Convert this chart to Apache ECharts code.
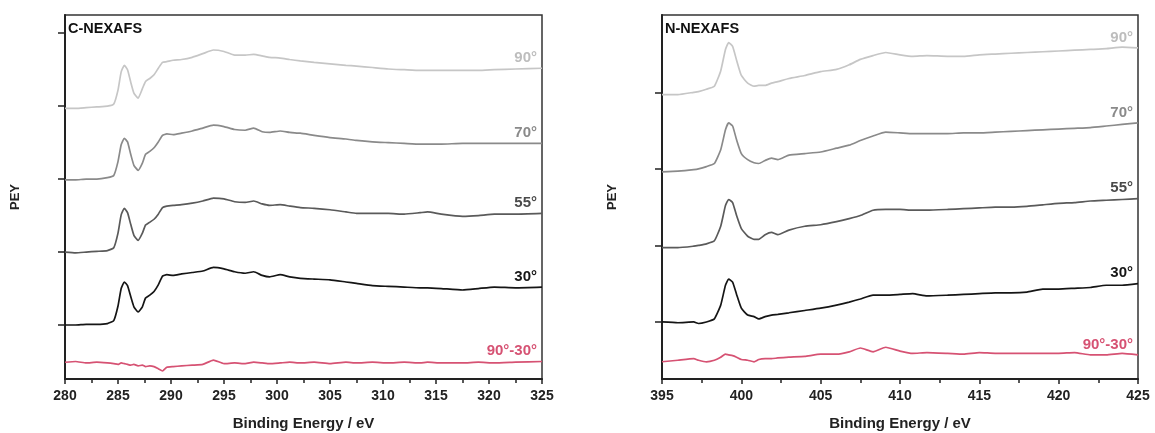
<!DOCTYPE html>
<html><head><meta charset="utf-8">
<script src="https://cdn.jsdelivr.net/npm/echarts@6/dist/echarts.min.js"></script>
<style>html,body{margin:0;padding:0;background:#fff}#c{width:1155px;height:433px}</style>
</head><body><div id="c"></div>
<script>
// ---- C-NEXAFS (left panel) ----
const cEnergy = [280,281,282,283,284,284.6,285.0,285.3,285.6,285.9,286.2,286.5,286.9,287.3,287.6,288.0,288.4,288.8,289.2,289.6,290.2,291,292,293,294,295,296,297,297.8,298.6,299.3,300.3,301.2,302.2,303.5,305,306.5,307.5,309,310.5,312,313.5,314.2,315.5,317.5,319,320.5,322.5,325];
const c90 = [-0.03,-0.03,-0.02,-0.01,0.0,0.03,0.22,0.47,0.56,0.50,0.33,0.18,0.11,0.24,0.34,0.38,0.43,0.52,0.60,0.61,0.63,0.64,0.67,0.72,0.77,0.75,0.70,0.70,0.71,0.69,0.67,0.66,0.64,0.62,0.60,0.58,0.56,0.55,0.53,0.51,0.50,0.49,0.49,0.49,0.49,0.49,0.50,0.51,0.52];
const c70 = [-0.01,-0.01,0.0,0.0,0.02,0.05,0.24,0.47,0.56,0.51,0.34,0.19,0.12,0.22,0.34,0.38,0.43,0.51,0.60,0.62,0.61,0.63,0.66,0.70,0.74,0.72,0.68,0.67,0.70,0.65,0.64,0.66,0.64,0.63,0.60,0.57,0.55,0.53,0.51,0.50,0.49,0.48,0.48,0.48,0.49,0.49,0.49,0.49,0.49];
const c55 = [0,-0.01,0.0,0.01,0.02,0.06,0.26,0.51,0.60,0.54,0.38,0.23,0.16,0.26,0.37,0.41,0.45,0.52,0.61,0.63,0.64,0.65,0.67,0.70,0.74,0.73,0.69,0.68,0.70,0.66,0.64,0.65,0.63,0.61,0.60,0.58,0.55,0.53,0.53,0.53,0.52,0.54,0.55,0.52,0.49,0.50,0.52,0.52,0.53];
const c30 = [0,0.0,0.01,0.01,0.02,0.06,0.26,0.50,0.59,0.54,0.39,0.25,0.18,0.25,0.37,0.41,0.46,0.55,0.67,0.69,0.68,0.70,0.72,0.74,0.79,0.77,0.73,0.71,0.73,0.68,0.66,0.69,0.66,0.64,0.63,0.62,0.59,0.57,0.54,0.53,0.52,0.51,0.51,0.50,0.48,0.50,0.52,0.51,0.52];
const cDiff = [-0.51,-0.50,-0.52,-0.51,-0.52,-0.53,-0.54,-0.52,-0.53,-0.54,-0.55,-0.54,-0.56,-0.55,-0.57,-0.56,-0.57,-0.60,-0.63,-0.58,-0.57,-0.56,-0.55,-0.54,-0.48,-0.53,-0.52,-0.53,-0.51,-0.52,-0.53,-0.52,-0.51,-0.52,-0.51,-0.53,-0.51,-0.52,-0.51,-0.52,-0.51,-0.52,-0.51,-0.52,-0.52,-0.51,-0.52,-0.51,-0.50];
// offsets of the stacked spectra (baseline of each trace)
const cOffsets = [3, 2, 1, 0, 0];

// ---- N-NEXAFS (right panel) ----
const nEnergy = [395,396,397,397.3,397.8,398.3,398.7,399.0,399.2,399.45,399.7,400.0,400.4,400.8,401.1,401.5,401.9,402.3,403,404,405,406,406.8,407.5,408.3,409.1,410,410.8,411.7,413,414,415,416,417,418,419,420,421,422,423,424,425];
const n90 = [-0.03,-0.03,0.0,0.01,0.04,0.08,0.28,0.56,0.65,0.60,0.42,0.22,0.12,0.08,0.09,0.09,0.12,0.14,0.18,0.22,0.27,0.30,0.36,0.43,0.48,0.52,0.49,0.47,0.48,0.47,0.47,0.49,0.50,0.51,0.52,0.53,0.54,0.55,0.56,0.57,0.59,0.58];
const n70 = [-0.04,-0.03,-0.01,0.0,0.03,0.07,0.25,0.51,0.60,0.56,0.38,0.20,0.12,0.08,0.07,0.11,0.14,0.12,0.18,0.20,0.22,0.27,0.31,0.37,0.43,0.48,0.47,0.46,0.46,0.46,0.47,0.47,0.48,0.49,0.50,0.51,0.52,0.53,0.54,0.56,0.58,0.60];
const n55 = [-0.03,-0.03,-0.01,0.0,0.02,0.06,0.25,0.52,0.60,0.56,0.39,0.22,0.12,0.08,0.08,0.14,0.17,0.14,0.20,0.25,0.27,0.31,0.35,0.39,0.46,0.47,0.47,0.46,0.46,0.47,0.48,0.49,0.50,0.50,0.51,0.53,0.55,0.56,0.58,0.59,0.60,0.61];
const n30 = [0,-0.01,0.0,-0.02,0.0,0.04,0.22,0.48,0.56,0.52,0.36,0.18,0.09,0.07,0.04,0.07,0.09,0.10,0.12,0.15,0.18,0.22,0.26,0.30,0.35,0.35,0.36,0.37,0.34,0.35,0.36,0.37,0.38,0.38,0.39,0.43,0.43,0.44,0.45,0.48,0.48,0.50];
const nDiff = [-0.52,-0.50,-0.48,-0.50,-0.52,-0.50,-0.46,-0.42,-0.43,-0.44,-0.46,-0.49,-0.50,-0.52,-0.49,-0.48,-0.48,-0.47,-0.46,-0.45,-0.42,-0.42,-0.39,-0.34,-0.39,-0.33,-0.38,-0.41,-0.40,-0.41,-0.42,-0.40,-0.41,-0.41,-0.41,-0.41,-0.41,-0.40,-0.43,-0.43,-0.41,-0.43];
const nOffsets = [3, 2, 1, 0, 0];

const seriesNames = ['90°','70°','55°','30°','90°-30°'];
const lineColors = ['#c6c6c6','#8a8a8a','#5a5a5a','#151515','#d65273'];
const labelColors = ['#bdbdbd','#8a8a8a','#4a4a4a','#151515','#d65273'];
const cTicks = [0,1,2,3,4];
const nTicks = [0,1,2,3];

const fontFam = 'Liberation Sans, Arial, sans-serif';

function mk(energy, ys, off, gi, idx) {
  return {
    type: 'line', xAxisIndex: gi, yAxisIndex: gi, name: seriesNames[idx],
    data: energy.map((e, i) => [e, ys[i] + off]),
    showSymbol: false, smooth: 0.15,
    lineStyle: { color: lineColors[idx], width: 1.7 },
    endLabel: { show: true, formatter: seriesNames[idx], align: 'right', verticalAlign: 'bottom',
      offset: [-13, -3], color: labelColors[idx], fontWeight: 'bold', fontSize: 15, fontFamily: fontFam },
    silent: true, animation: false
  };
}

const cSets = [c90, c70, c55, c30, cDiff];
const nSets = [n90, n70, n55, n30, nDiff];
const series = [];
cSets.forEach((s, i) => series.push(mk(cEnergy, s, cOffsets[i], 0, i)));
nSets.forEach((s, i) => series.push(mk(nEnergy, s, nOffsets[i], 1, i)));

function xAx(gi, mn, mx) {
  return {
    type: 'value', gridIndex: gi, min: mn, max: mx, interval: 5,
    name: 'Binding Energy / eV', nameLocation: 'middle', nameGap: 37,
    nameTextStyle: { fontWeight: 'bold', fontSize: 15, color: '#222', fontFamily: fontFam },
    axisLine: { show: true, onZero: false, lineStyle: { color: '#222', width: 2 } },
    axisTick: { show: true, length: 5, lineStyle: { color: '#222', width: 1.5 } },
    minorTick: { show: true, splitNumber: 2, length: 4, lineStyle: { color: '#222', width: 1.5 } },
    axisLabel: { fontWeight: 'bold', fontSize: 14, color: '#222', margin: 10, fontFamily: fontFam },
    splitLine: { show: false }
  };
}
function yAx(gi, mn, mx, ticks) {
  return {
    type: 'value', gridIndex: gi, min: mn, max: mx,
    name: 'PEY', nameLocation: 'middle', nameGap: 43, nameRotate: 90,
    nameTextStyle: { fontWeight: 'bold', fontSize: 13, color: '#222', fontFamily: fontFam },
    axisLine: { show: true, onZero: false, lineStyle: { color: '#222', width: 2 } },
    axisTick: { show: true, length: 7, customValues: ticks, lineStyle: { color: '#222', width: 1.5 } },
    axisLabel: { show: false },
    splitLine: { show: false }
  };
}

const chart = echarts.init(document.getElementById('c'), null, { renderer: 'canvas' });
chart.setOption({
  animation: false,
  backgroundColor: '#fff',
  title: [
    { text: 'C-NEXAFS', left: 68, top: 21, padding: 0, textStyle: { fontWeight: 'bold', fontSize: 14.5, color: '#111', fontFamily: fontFam } },
    { text: 'N-NEXAFS', left: 665, top: 21, padding: 0, textStyle: { fontWeight: 'bold', fontSize: 14.5, color: '#111', fontFamily: fontFam } }
  ],
  grid: [
    { left: 65, top: 15, width: 477, height: 364, outerBoundsMode: 'none', containLabel: false, show: true, borderColor: '#333', borderWidth: 1.5, backgroundColor: 'transparent' },
    { left: 662, top: 15, width: 476, height: 364, outerBoundsMode: 'none', containLabel: false, show: true, borderColor: '#333', borderWidth: 1.5, backgroundColor: 'transparent' }
  ],
  xAxis: [xAx(0, 280, 325), xAx(1, 395, 425)],
  yAxis: [yAx(0, -0.74, 4.25, cTicks), yAx(1, -0.745, 4.01, nTicks)],
  series: series
});
</script></body></html>
